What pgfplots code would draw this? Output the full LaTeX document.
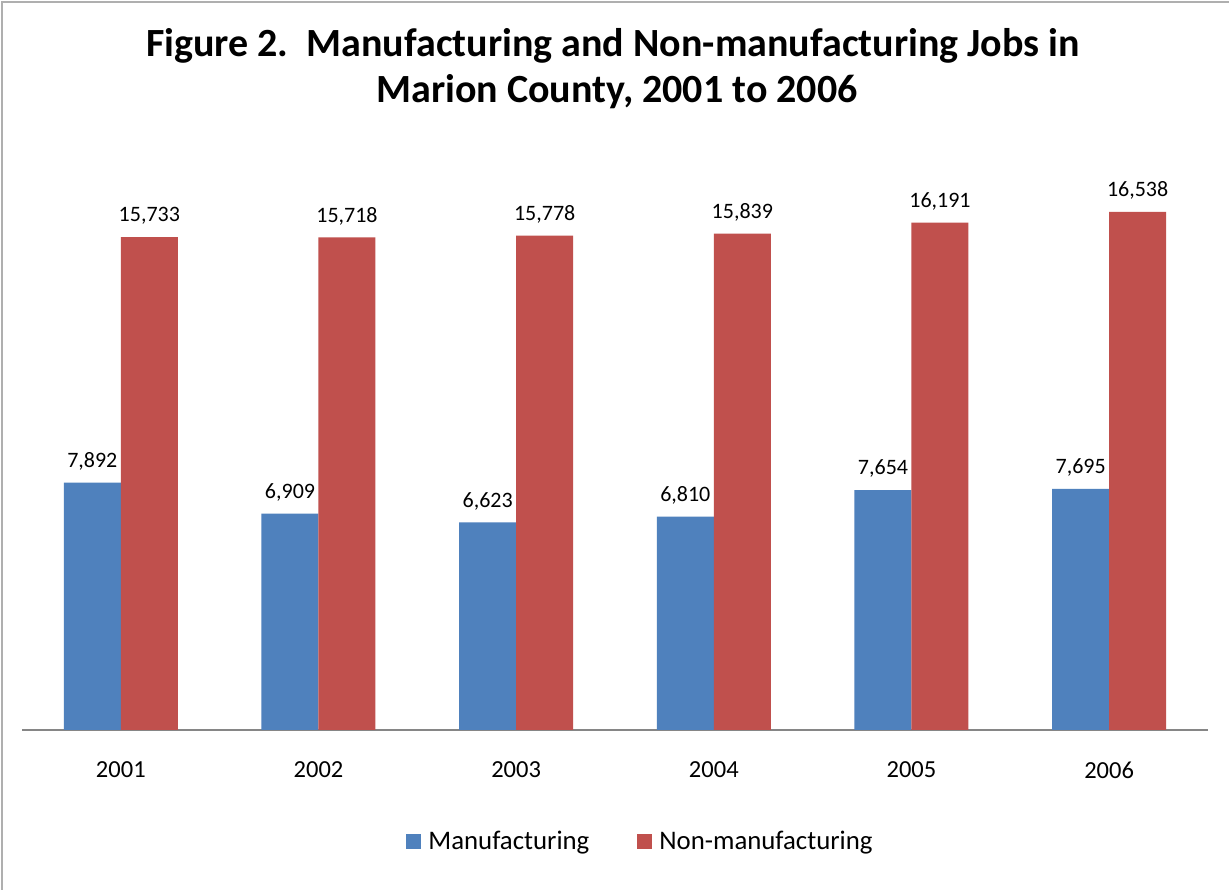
\documentclass[border=0pt]{standalone}
\usepackage{pgfplots}
\pgfplotsset{compat=1.18}
\usepackage{fontspec}
\setmainfont{Carlito}
\definecolor{mblue}{RGB}{79,129,189}
\definecolor{mred}{RGB}{192,80,77}
\definecolor{axgray}{RGB}{134,134,134}
\definecolor{bordergray}{RGB}{175,175,175}
\begin{document}
\begin{tikzpicture}[x=1pt,y=1pt]
\useasboundingbox (0,0) rectangle (1229,890);
\fill[white] (0,0) rectangle (1229,890);
\draw[bordergray, line width=2pt] (2,-10) -- (2,888) -- (1240,888);
\node[anchor=base, font=\fontsize{40}{46}\selectfont\bfseries] at (613,833)
  {Figure 2.\ \ Manufacturing and Non-manufacturing Jobs in};
\node[anchor=base, font=\fontsize{40}{46}\selectfont\bfseries] at (617,787)
  {Marion County, 2001 to 2006};
\begin{axis}[
  at={(22pt,160pt)}, anchor=south west,
  scale only axis, width=1186pt, height=564pt,
  ymin=0, ymax=18000, xmin=-0.5, xmax=5.5,
  ybar=0pt, bar width=57pt,
  axis x line*=bottom, axis y line=none,
  x axis line style={axgray, line width=1.5pt, -},
  xtick=data, xticklabels={2001,2002,2003,2004,2005,2006},
  xtick style={draw=none},
  xticklabel style={font=\fontsize{24.5}{26}\selectfont, yshift=-24pt},
  /pgf/number format/assume math mode=true,
  /pgf/number format/1000 sep={,},
  nodes near coords,
  nodes near coords style={font=\fontsize{22}{24}\selectfont, yshift=9pt, text=black},
  legend columns=2,
  legend style={draw=none, fill=none, at={(0.5215,-0.197)}, anchor=center,
    font=\fontsize{26.8}{30}\selectfont,
    /tikz/every odd column/.append style={column sep=5pt},
    /tikz/every even column/.append style={column sep=46pt}},
  legend image code/.code={\fill[#1,draw=none] (0pt,-7.5pt) rectangle (15pt,7.5pt);},
]
\addplot[fill=mblue, draw=none] coordinates {(0,7892) (1,6909) (2,6623) (3,6810) (4,7654) (5,7695)};
\addplot[fill=mred, draw=none] coordinates {(0,15733) (1,15718) (2,15778) (3,15839) (4,16191) (5,16538)};
\legend{Manufacturing, Non-manufacturing}
\end{axis}
\end{tikzpicture}
\end{document}
